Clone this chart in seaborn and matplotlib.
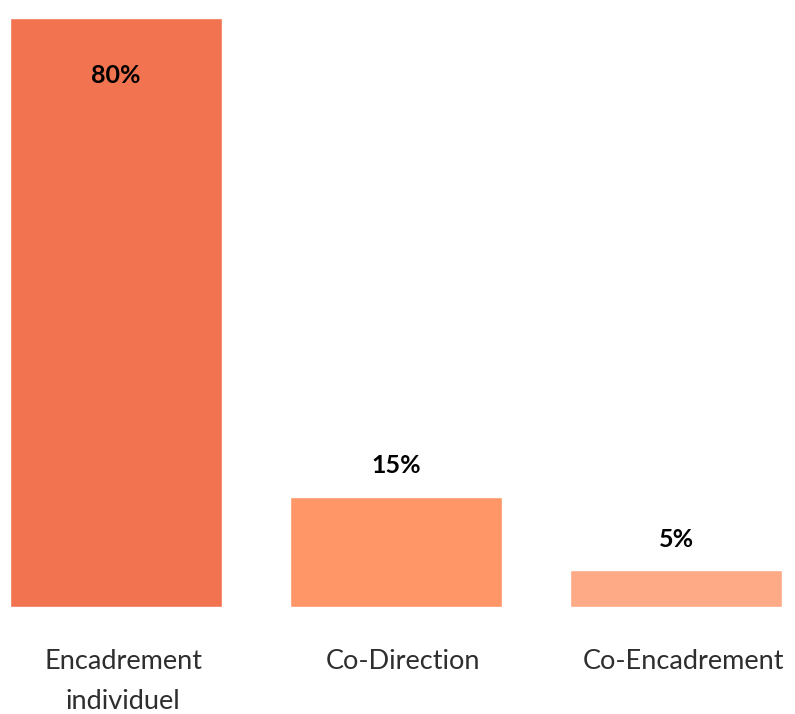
import matplotlib
matplotlib.use("Agg")
import matplotlib.pyplot as plt
import matplotlib.transforms as mtransforms
import seaborn as sns
import pandas as pd

# data
categories = ["Encadrement\nindividuel", "Co-Direction", "Co-Encadrement"]
values = [80, 15, 5]
labels = ["80%", "15%", "5%"]
colors = ["#F2734F", "#FE9668", "#FFAA86"]

sns.set_theme(style="white")
plt.rcParams['font.family'] = ['Lato', 'DejaVu Sans']

df = pd.DataFrame({"cat": categories, "val": values})

fig = plt.figure(figsize=(7.95, 7.14), dpi=100)
ax = fig.add_axes([0, 0.1499, 1, 0.8249])

sns.barplot(data=df, x="cat", y="val", hue="cat", palette=colors,
            width=0.757, saturation=1, legend=False, ax=ax)

ax.set_ylim(0, 80)
ax.set_xlim(-116 / 280, (795 - 116) / 280)

# value labels: first one sits inside the bar, others above
for i, (v, lab) in enumerate(zip(values, labels)):
    off = -58 if i == 0 else 31
    ax.annotate(lab, (i, v), xytext=(0, off), textcoords="offset pixels",
                ha="center", va="center", fontsize=18, fontweight="bold", color="black")

ax.set_xlabel("")
ax.set_ylabel("")
ax.set_yticks([])
ax.tick_params(axis="x", length=0, pad=30, labelsize=19.5, labelcolor="#2e2e2e")
shift = mtransforms.ScaledTranslation(7 / 100, 0, fig.dpi_scale_trans)
for lbl in ax.get_xticklabels():
    lbl.set_linespacing(1.75)
    lbl.set_transform(lbl.get_transform() + shift)
sns.despine(ax=ax, left=True, bottom=True)

fig.savefig("out.png", dpi=100)
